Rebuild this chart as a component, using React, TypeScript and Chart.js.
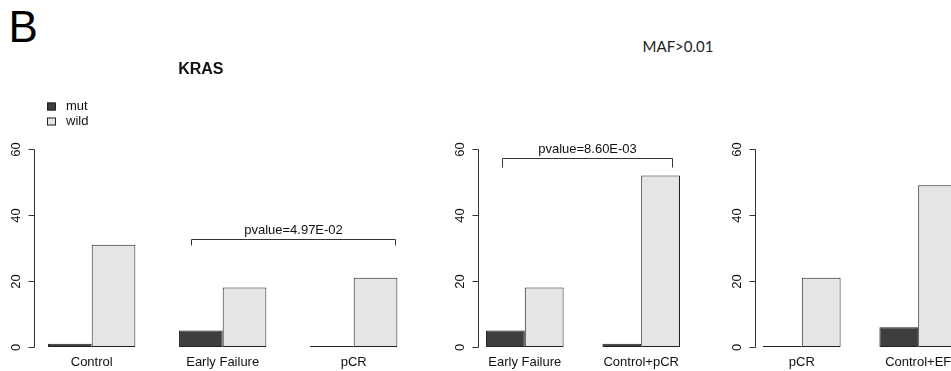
import React, { useEffect, useRef } from "react";
import { Chart, registerables } from "chart.js";

Chart.register(...registerables);

// ---- data ----
const seriesNames = ["mut", "wild"];
const yTicks = [0, 20, 40, 60];

const panel1Categories = ["Control", "Early Failure", "pCR"];
const panel1Mut = [1, 5, 0];
const panel1Wild = [31, 18, 21];
const panel1PValue = "pvalue=4.97E-02";
const panel1Bracket = [0.756, 2.313]; // span in category index units
const panel1BracketLevels = [32.6, 31]; // bar top level, end level

const panel2Categories = ["Early Failure", "Control+pCR"];
const panel2Mut = [5, 1];
const panel2Wild = [18, 52];
const panel2PValue = "pvalue=8.60E-03";
const panel2Bracket = [-0.198, 1.266];
const panel2BracketLevels = [57.2, 54.5];

const panel3Categories = ["pCR", "Control+EF"];
const panel3Mut = [0, 6];
const panel3Wild = [21, 49];

const figureLabel = "B";
const headerText = "MAF>0.01";
const titleText = "KRAS";

// ---- style ----
const W = 1000;
const H = 371;
const MUT_COLOR = "#3e3e3e";
const WILD_COLOR = "#e5e5e5";
const BORDER_COLOR = "#222222";
const LINE_COLOR = "#333333";
const TEXT_COLOR = "#111111";
const FONT = '"Liberation Sans", Arial, sans-serif';

type Panel = {
  cats: string[];
  mut: number[];
  wild: number[];
  left: number;
  right: number;
  pvalue?: string;
  bracket?: number[];
  levels?: number[];
  title?: string;
  legend?: boolean;
};

const panels: Panel[] = [
  {
    cats: panel1Categories,
    mut: panel1Mut,
    wild: panel1Wild,
    left: 26.2,
    right: 419.2,
    pvalue: panel1PValue,
    bracket: panel1Bracket,
    levels: panel1BracketLevels,
    title: titleText,
    legend: true,
  },
  {
    cats: panel2Categories,
    mut: panel2Mut,
    wild: panel2Wild,
    left: 466.6,
    right: 699.4,
    pvalue: panel2PValue,
    bracket: panel2Bracket,
    levels: panel2BracketLevels,
  },
  {
    cats: panel3Categories,
    mut: panel3Mut,
    wild: panel3Wild,
    left: 743.6,
    right: 976.4,
  },
];

function makePlugin(p: Panel) {
  return {
    id: "rstyle",
    afterDraw(chart: any) {
      const ctx = chart.ctx as CanvasRenderingContext2D;
      const xs = chart.scales.x;
      const ys = chart.scales.y;
      const n = p.cats.length;
      const axisIdx = (-1 - 0.04 * (3 * n - 1)) / 3;
      const axisX = Math.round(xs.getPixelForValue(axisIdx)) + 0.5;
      const yMin = yTicks[0];
      const yMax = yTicks[yTicks.length - 1];
      ctx.save();
      ctx.strokeStyle = LINE_COLOR;
      ctx.lineWidth = 1;
      ctx.fillStyle = TEXT_COLOR;
      // y axis
      ctx.beginPath();
      ctx.moveTo(axisX, Math.round(ys.getPixelForValue(yMin)) + 0.5);
      ctx.lineTo(axisX, Math.round(ys.getPixelForValue(yMax)) + 0.5);
      ctx.stroke();
      ctx.font = "13px " + FONT;
      for (const t of yTicks) {
        const y = Math.round(ys.getPixelForValue(t)) + 0.5;
        ctx.beginPath();
        ctx.moveTo(axisX, y);
        ctx.lineTo(axisX - 6, y);
        ctx.stroke();
        ctx.save();
        ctx.translate(axisX - 18, y);
        ctx.rotate(-Math.PI / 2);
        ctx.textAlign = "center";
        ctx.textBaseline = "middle";
        ctx.fillText(String(t), 0, 0);
        ctx.restore();
      }
      // category labels
      ctx.textAlign = "center";
      ctx.textBaseline = "middle";
      const labelY = ys.getPixelForValue(yMin) + 15;
      p.cats.forEach((c, i) => {
        ctx.fillText(c, xs.getPixelForValue(i), labelY);
      });
      // bracket
      if (p.bracket && p.levels && p.pvalue) {
        const x1 = Math.round(xs.getPixelForValue(p.bracket[0])) + 0.5;
        const x2 = Math.round(xs.getPixelForValue(p.bracket[1])) + 0.5;
        const yTop = Math.round(ys.getPixelForValue(p.levels[0])) + 0.5;
        const yEnd = Math.round(ys.getPixelForValue(p.levels[1])) + 0.5;
        ctx.beginPath();
        ctx.moveTo(x1, yEnd);
        ctx.lineTo(x1, yTop);
        ctx.lineTo(x2, yTop);
        ctx.lineTo(x2, yEnd);
        ctx.stroke();
        ctx.fillText(p.pvalue, (x1 + x2) / 2, yTop - 9.5);
      }
      // title
      if (p.title) {
        const rightIdx = (3 * n - 1 + 0.04 * (3 * n - 1) - 2) / 3;
        const cx = (xs.getPixelForValue(axisIdx) + xs.getPixelForValue(rightIdx)) / 2;
        ctx.font = "bold 16px " + FONT;
        ctx.textBaseline = "alphabetic";
        ctx.fillText(p.title, cx, 73.5);
      }
      // legend
      if (p.legend) {
        const colors = [MUT_COLOR, WILD_COLOR];
        ctx.font = "13px " + FONT;
        ctx.textAlign = "left";
        ctx.textBaseline = "middle";
        seriesNames.forEach((name, i) => {
          const cy = 106.5 + i * 15;
          ctx.fillStyle = colors[i];
          ctx.fillRect(47, cy - 4, 8, 8);
          ctx.strokeStyle = BORDER_COLOR;
          ctx.strokeRect(47.5, cy - 3.5, 8, 7);
          ctx.fillStyle = TEXT_COLOR;
          ctx.fillText(name, 66, cy);
        });
      }
      ctx.restore();
    },
  };
}

function PanelChart({ p }: { p: Panel }) {
  const ref = useRef<HTMLCanvasElement | null>(null);
  useEffect(() => {
    if (!ref.current) return;
    const common = {
      borderColor: BORDER_COLOR,
      borderWidth: 1,
      borderSkipped: false as const,
      categoryPercentage: 2 / 3,
      barPercentage: 1,
      minBarLength: 1,
    };
    const chart = new Chart(ref.current, {
      type: "bar",
      data: {
        labels: p.cats,
        datasets: [
          { label: seriesNames[0], data: p.mut, backgroundColor: MUT_COLOR, ...common },
          { label: seriesNames[1], data: p.wild, backgroundColor: WILD_COLOR, ...common },
        ],
      },
      options: {
        responsive: false,
        animation: false,
        devicePixelRatio: 1,
        layout: {
          padding: { left: p.left, right: W - p.right, top: 149, bottom: H - 347 },
        },
        plugins: {
          legend: { display: false },
          tooltip: { enabled: false },
          title: { display: false },
        },
        scales: {
          x: { display: false, offset: true, grid: { display: false } },
          y: { display: false, min: yTicks[0], max: yTicks[yTicks.length - 1] },
        },
      },
      plugins: [makePlugin(p)],
    });
    return () => chart.destroy();
  }, [p]);
  return (
    <canvas
      ref={ref}
      width={W}
      height={H}
      style={{ position: "absolute", left: 0, top: 0, width: W, height: H, pointerEvents: "none" }}
    />
  );
}

export default function App() {
  return (
    <div
      style={{
        position: "fixed",
        left: 0,
        top: 0,
        width: 951,
        height: 371,
        overflow: "hidden",
        background: "#ffffff",
      }}
    >
      <div
        style={{
          position: "absolute",
          left: 8.5,
          top: 4.5,
          fontFamily: FONT,
          fontSize: 44,
          lineHeight: 1,
          color: "#000",
        }}
      >
        {figureLabel}
      </div>
      <div
        style={{
          position: "absolute",
          left: 600,
          top: 39,
          width: 156,
          textAlign: "center",
          fontFamily: "Lato, 'Open Sans', sans-serif",
          fontSize: 15,
          lineHeight: 1,
          color: "#222",
        }}
      >
        {headerText}
      </div>
      {panels.map((p, i) => (
        <PanelChart key={i} p={p} />
      ))}
    </div>
  );
}
